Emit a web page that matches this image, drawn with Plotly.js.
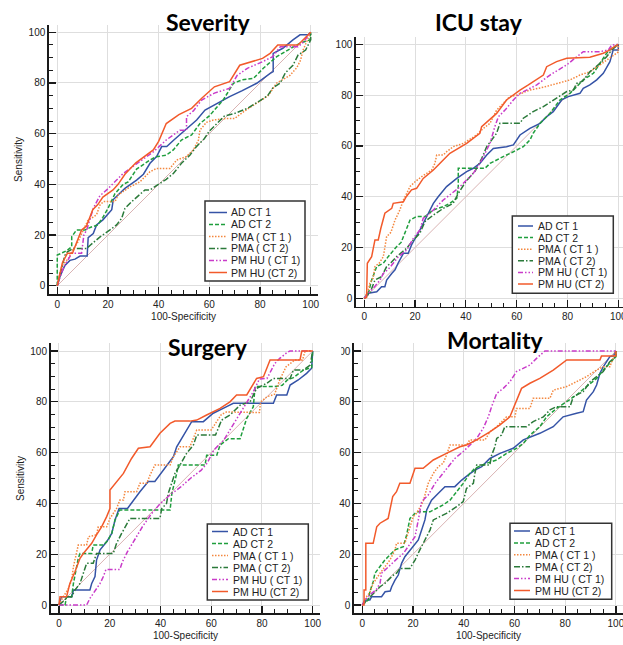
<!DOCTYPE html>
<html><head><meta charset="utf-8">
<script src="https://cdn.plot.ly/plotly-3.0.1.min.js"></script>
<style>html,body{margin:0;padding:0;background:#fff;} #chart{width:623px;height:645px;}</style>
</head><body><div id="chart"></div>
<script>
// ---------- labels ----------
const seriesNames = ["AD CT 1", "AD CT 2", "PMA ( CT 1 )", "PMA ( CT 2)", "PM HU ( CT 1)", "PM HU (CT 2)"];
const panelTitles = ["Severity", "ICU stay", "Surgery", "Mortality"];
const xAxisTitle = "100-Specificity";
const yAxisTitle = "Sensitivity";
const tickValues = [0, 20, 40, 60, 80, 100];
const tickLabels = ["0", "20", "40", "60", "80", "100"];
const diagonal = [0, 100];

// ---------- Severity: [100-Specificity, Sensitivity] ----------
const sevAD1 = [[0,0],[1,3.5],[3,8],[5,10],[7,10.5],[9,11.7],[11.8,11.7],[12.2,19],[14.2,20.6],[15.5,24],[18,26],[21.5,30],[22.1,34],[26.7,38.4],[31.3,41.7],[34,44],[36.6,48.3],[39.2,51],[41.2,54.9],[43.2,54.9],[46,57.5],[50,61],[55,65.4],[58.3,69.3],[63,72],[68,74.6],[73,77],[78.7,79.9],[84,83.8],[85.2,84.5],[85.2,91.7],[89,93.7],[93,97],[95.8,99],[99,99],[100,100]];
const sevAD2 = [[0,0],[0,12.1],[2,13],[4,14],[5.7,15.4],[5.7,19.3],[7.6,22],[11,22],[13,23],[16,24],[18,27],[20,30.5],[22.8,36.4],[26,40],[28,41],[31.3,46],[36.6,49.6],[39,50.9],[43,51.5],[45.8,53.6],[49,57.5],[53,59.5],[56.3,64],[60,67],[65.5,73.3],[69.5,79.9],[72.8,81.2],[77.4,81.8],[81.3,85.8],[86.6,90.4],[93.2,94.3],[95.8,95.7],[99.7,97],[100,100]];
const sevPMA1 = [[0,0],[1,5],[2,8],[4.4,10.8],[6,14],[8,17],[10.3,22],[12.2,26],[14,27],[15.5,28],[16.8,31.8],[18.2,33.2],[22.8,33.2],[24,35.8],[28.7,39],[32.6,41],[36.6,45],[39.2,46.3],[44.5,46.3],[47.1,49.6],[51,51],[53.7,53.6],[55.7,57.5],[56.3,61.4],[58.9,64.5],[61.6,65.4],[66.8,66],[70,66],[74,69],[78.7,72],[83.2,75],[86.6,80],[91.8,83],[94.5,86],[96,89],[97,93],[100,100]];
const sevPMA2 = [[0,0],[1,3.5],[2,8],[3,12],[4,13.4],[6.3,14.7],[11.6,14.7],[13,16],[16.9,19.3],[20.8,22],[23.4,24],[25.4,26.6],[26.7,30.5],[29.4,33.2],[32.6,35.8],[34.6,37.8],[36.6,37.8],[40.5,40.4],[43,42],[45.8,44.3],[49,48.3],[52.4,51.6],[55,55],[58,58],[60,61],[62,63],[66,67],[70,68],[75,70],[80,73],[83,75],[85,78],[88,80],[90,84],[93,87],[95,91],[98,93],[100,97],[100,100]];
const sevHU1 = [[0,0],[1,3],[2,6],[3,8],[4,10],[5.7,12.8],[9.6,12.8],[10.5,20],[11.6,22],[14.2,30.5],[16.8,35.5],[19.5,37.8],[26,44.3],[31,48],[38,52.9],[43,57.5],[48.4,61.4],[51,61.4],[51,66.7],[53.7,69],[57,73.3],[62,76],[68,77.9],[71,83],[75,85.8],[81,88.4],[85,90.4],[88,94.3],[95,94.3],[97,96],[100,100]];
const sevHU2 = [[0,0],[1,5],[2,9],[4,12.8],[6,12.8],[7.6,17],[9.6,22],[11.5,23.5],[14,30],[16,32],[18,35],[22,37.8],[24,40],[26.7,44],[31,48.5],[37.9,53.6],[40,57],[43,64],[48,67.5],[53,70],[57,74],[62,78.5],[68,80.5],[72,87],[75,88],[81,89.7],[84,91.7],[87,95],[95,95],[97,97],[100,100]];

// ---------- ICU stay ----------
const icuAD1 = [[0,0],[1.6,2],[4.9,2.6],[6.8,4.6],[8.1,4.6],[8.8,7.2],[10.8,9.8],[12.1,11.2],[13.4,14],[15.4,17.7],[17.3,17.7],[18.6,21],[21.9,26.9],[24.5,32.2],[25.9,35.4],[27.2,37.4],[29.1,40],[32.4,44],[36.4,47.2],[40.3,49.9],[42.9,51.2],[45.5,53.1],[48.2,56.4],[50.8,59],[56,59.7],[58.7,60.4],[61.3,64.3],[65.2,66.9],[69.2,68.9],[71.8,71.5],[74.4,73.5],[77.7,78.1],[80.3,79.4],[84.9,80.7],[86.2,82.7],[88.8,84],[91.5,86],[94.1,88.6],[96.7,93.2],[98,97.8],[100,97.8],[100,100]];
const icuAD2 = [[0,0],[1.6,2],[2.9,7.2],[4.9,12.5],[7.5,13.8],[9.4,16.4],[12.7,20.3],[14.5,22],[18,30.8],[20.6,32.2],[23.9,32.2],[27.2,34.8],[31.1,36.1],[33.7,37.4],[36.4,39.4],[37,44],[37,51.2],[47.5,51.2],[49.5,53.1],[52.1,54.5],[54.7,55.8],[58.7,57.7],[62.6,59.7],[65.2,62.3],[66.5,65],[69.2,68.9],[73.1,72.8],[77,78.1],[81,80.7],[83.6,83.3],[86.2,86],[90.2,88.6],[92.8,92.5],[95.4,96.5],[97.4,98.4],[100,100]];
const icuPMA1 = [[0,0],[1.6,3.3],[2.2,5.9],[3.5,8],[4.2,12.5],[6,14],[7.5,16.4],[8.1,20.3],[8.8,24.3],[10.5,26],[12.1,30.8],[14,34.8],[15.4,38.7],[16.7,41.3],[18,44],[20,45.9],[22.6,47.9],[26.5,50.5],[27.8,53.1],[28.5,56.4],[31.1,56.4],[32.4,57.7],[35,59.7],[39,61],[44.2,64.3],[46.9,66.9],[49.5,68.9],[52.1,74.1],[54.7,76.8],[57.3,79.4],[60,80],[65.2,82],[70.5,83.1],[76,84.5],[81,86],[84.9,87.9],[88.8,89.2],[92.8,91.9],[97.4,95.1],[99.3,96.5],[100,97],[100,100]];
const icuPMA2 = [[0,0],[2.2,2],[4.2,7.2],[6.8,8.5],[8.8,12.5],[10.5,14],[12.7,16.4],[14.5,18],[16.7,19.7],[19.3,23],[21.9,25.6],[23.9,30.2],[27.2,32.8],[31.1,35.4],[35,37.4],[37,41.3],[40,46],[43.6,50],[46.2,55],[48.2,59.7],[50.1,62.3],[52.1,65],[53.4,68.9],[61.3,68.9],[62.6,70.9],[66.5,73.5],[70.5,75.5],[74.4,78.1],[79.7,81.4],[82.3,82],[83.6,84.6],[86,85.5],[88.8,89.2],[92.8,92.5],[95.4,95.1],[97.4,97.8],[100,100]];
const icuHU1 = [[0,0],[1.6,2],[4,4.5],[6.2,7.2],[7.5,9.8],[9.5,11.5],[11.4,13.8],[13.4,16.4],[16.7,19],[19.3,23.6],[21.9,26.9],[23.2,31.5],[25.9,33.5],[28.5,36.1],[31.1,38.7],[34.4,41.3],[37,43.3],[40.3,46.6],[42.9,49.2],[45.5,53.1],[47.5,57.1],[49.5,61],[51.4,67.6],[52.8,71.5],[55.4,74.1],[58.7,78.1],[61.3,80.7],[65.2,82.7],[67.9,84],[70.5,86],[73.1,87.9],[76.4,89.9],[79.7,91.9],[82.9,94.5],[86.2,97.1],[92.8,97.1],[96.1,97.8],[97.4,99.7],[100,100]];
const icuHU2 = [[0,0],[0.9,0.3],[1.2,13.8],[2.9,16.4],[4.2,23],[5.5,23],[6.5,27.5],[8.1,33.5],[10.8,35.4],[11.4,37.4],[15.4,38],[16.5,40],[18.6,42.7],[20.6,43.3],[23.2,47.2],[27.2,50.5],[30.4,53.8],[33.7,57.1],[40.3,61],[45.5,65],[46.2,67.6],[52.1,72.8],[56,78.1],[61.3,82],[64.6,84],[70.5,87.9],[71.8,91.2],[75.7,93.2],[79.7,94.5],[88.8,94.9],[94.1,96.5],[96.7,97.8],[98.3,99],[100,100]];

// ---------- Surgery ----------
const surAD1 = [[0,0],[1,3.3],[5,3.3],[5.7,5.9],[12.2,5.9],[12.9,8.5],[14.2,11.2],[14.8,17.7],[16.2,21.7],[18.8,24.9],[20.8,28.2],[22.1,33.5],[23.7,38],[27,38],[31.9,44.6],[35.2,48.6],[37.8,48.6],[42.4,54.5],[45.1,58.4],[46.4,62.3],[49.7,67.6],[52.3,72.2],[56.9,72.2],[60.8,75.5],[66.1,78.1],[68.7,79.4],[84.5,79.4],[85.8,82.7],[89.8,82.7],[91.1,86.6],[94.3,88.6],[97.6,91.2],[99.6,93.2],[100,100]];
const surAD2 = [[0,0],[2.4,0],[3,3.3],[5,3.3],[5.7,8.5],[7.6,18.4],[8.3,20.3],[12.9,20.3],[13.5,23.6],[17.5,23.6],[19.4,25.6],[20.8,28.2],[22.1,33.5],[24,37.4],[43.8,37.4],[44.5,44],[46.4,51.8],[47,55.1],[57.6,55.1],[58.2,59],[62.2,59],[63.5,63],[66.8,65.5],[71.4,65.5],[74,73.5],[76.6,78.1],[77.3,86],[85,86],[88,86.5],[90,88.6],[92.4,89.5],[96.3,92.5],[99.6,93.5],[100,100]];
const surPMA1 = [[0,0],[1.7,3.3],[3.5,6],[5,9.8],[5.7,15.1],[7,20.3],[7.6,23.6],[10.9,23.6],[11.6,26.9],[14.8,27.6],[15.5,30.8],[18.8,30.8],[20.1,34.1],[22.7,38],[24,41.3],[25.4,41.3],[26,44.6],[30.6,44.6],[31.9,47.9],[34.6,47.9],[35.9,51.2],[37.8,55.1],[43.8,55.1],[45.1,58.4],[47.7,62.3],[51.6,62.3],[54.3,68.9],[60,68.9],[62,72],[64,75],[66,76],[71,76],[75,75.8],[79,75.8],[79.5,80],[82,82],[85,83],[87,88.6],[89.5,93.8],[93,96.5],[96,96.5],[97,100],[100,100]];
const surPMA2 = [[0,0],[2.4,2],[3,3.3],[5,3.3],[6.3,5.9],[8.3,8.5],[9.6,12.5],[10.9,16.4],[13.5,16.4],[14.8,20.3],[21.4,20.3],[22.7,24.3],[24.7,28.2],[26.7,31.5],[28,34.1],[39.8,34.1],[40.5,38],[42.4,40],[43.1,44],[44.4,47.9],[45.7,51.8],[47.7,55.1],[50.3,59.7],[53,63],[54.3,66.9],[61.7,66.9],[64.1,72.8],[67.4,74.8],[71.4,78.7],[75.3,80],[77.9,85.3],[81.9,87.3],[84.5,89.2],[91.1,89.2],[92.4,92.5],[96.3,92.5],[99,94.5],[100,100]];
const surHU1 = [[0,0],[10.9,0],[12.2,2.6],[13.5,4.6],[16.2,8.5],[17.5,11.2],[18.5,14],[24,14],[25,17],[27,21],[30,26],[33,31],[36.5,36],[40,40],[44,43.5],[48,46.5],[52,50],[56,53],[58.5,56],[61,61],[65,65],[67.5,69],[71.5,75.5],[74,79.4],[76.6,84],[79,89],[82,89.2],[85,95],[87,97.1],[90,99.5],[91,100],[100,100]];
const surHU2 = [[0,0],[0.4,3.3],[3,3.3],[4.3,8.5],[6.3,13.1],[8.3,18.4],[9.6,20.3],[12.9,24.3],[14.8,27.6],[16.8,30.8],[18.8,34.8],[20.1,38],[20.1,45.3],[22.1,47.9],[25.4,51.8],[28.6,57.7],[31.3,61.7],[35.9,62.3],[39.8,67.6],[43.8,71.5],[45.7,72.4],[51.6,72.4],[54.3,72.8],[58.2,74.8],[63.5,77.4],[67.4,80],[70,82.7],[74,82.7],[77.9,89.2],[80.6,89.9],[83.2,96.5],[95,96.5],[95.7,100],[100,100]];

// ---------- Mortality ----------
const morAD1 = [[0,0],[1.1,2],[3,2],[3.7,3.3],[7.6,3.3],[9,5.2],[11,5.5],[11.6,7.2],[12.9,9.8],[14.2,11.8],[14.9,14.4],[15.5,16.4],[16.8,19],[20.1,23],[22.1,25.6],[23.4,29.5],[24.7,33.5],[25.4,37.4],[27.3,41.3],[30,44],[32.6,46.6],[36.5,46.6],[39.2,49.2],[41.8,51.2],[44.4,53.1],[47.1,54.5],[50.3,57.7],[54.3,59.7],[59.5,61.7],[63.5,65],[70,67.6],[75.3,70.2],[79.2,74.1],[84.5,75.5],[87.1,76.1],[88.4,80.7],[91.1,84],[92.4,86.6],[93.7,91.2],[95,93.8],[97.6,97.8],[99,98],[100,100]];
const morAD2 = [[0,0],[2.4,2],[3,5.2],[4.3,9.2],[5,12.5],[7,15.1],[8.9,17.7],[10.9,19.7],[12.9,21.7],[16.2,23],[17.5,27.6],[18.8,34.1],[21.4,36.7],[26.7,36.7],[29.3,38],[31.9,39.4],[34.6,41.3],[37.2,44.6],[39.8,47.9],[42.4,51.8],[44.4,53.8],[49,55.8],[53,57.1],[56.9,59.7],[60.8,61.7],[63.5,63.6],[66.1,66.9],[70,70.2],[72.7,74.1],[76.6,77.4],[80.6,80],[84.5,82.7],[88.4,86],[92.4,89.2],[95,92.5],[97.6,95.1],[100,97.8],[100,100]];
const morPMA1 = [[0,0],[1.5,3],[3,5],[4.3,8.5],[7,12.5],[8.9,15.1],[10.9,17.7],[12.9,21.7],[13.5,24.3],[16.8,24.3],[18.8,30.8],[20.1,34.8],[21.4,36.1],[24,40.7],[26,47.9],[28,51.8],[30,54.5],[31.9,55.8],[33.2,59],[34.6,63],[41.1,63],[42.4,65],[48.4,65],[50.3,68.2],[53,70.2],[56.9,74.1],[60.2,74.1],[60.8,77.4],[66.1,77.4],[67.4,81.4],[74,81.4],[75.3,84.6],[80.6,86],[84.5,87.9],[88.4,89.9],[92.4,92.5],[95,93.8],[97.6,93.8],[99,97.8],[100,100]];
const morPMA2 = [[0,0],[3,3.3],[5,5.2],[7,7.2],[8.9,8.5],[10.9,10.5],[12.5,12],[13.5,12.5],[14.8,14.4],[18.8,14.4],[20.8,17.7],[22.7,21.7],[24.7,25.6],[26.7,29.5],[28,33.5],[30.6,34.8],[33.2,36.1],[37.2,38.7],[39.8,40.7],[41.1,45.9],[43.8,47.9],[44.4,51.8],[45.1,55.1],[50.3,55.1],[51,59],[52.3,62.3],[53,65.6],[54.9,66.9],[56.2,70.2],[64.8,70.2],[67.4,72.2],[71.4,74.1],[74,76.8],[76.6,78.1],[81.9,78.1],[83.2,82],[87.1,84],[89.8,87.9],[92.4,89.9],[95,91.9],[97.6,95.8],[100,97.8],[100,100]];
const morHU1 = [[0,0],[1.5,2.5],[3.7,4.6],[5.5,6],[7,8.5],[7.6,12.5],[9.6,14.4],[11.6,16.4],[13.5,18],[16.2,20.3],[18.8,24.3],[20.8,26.9],[22.1,33.5],[23.4,40.7],[26,43.3],[28.7,47.9],[31.3,51.2],[33.9,54.5],[36.5,57.7],[39.8,60.4],[42.5,63],[45.1,65.6],[47.7,69.6],[49.7,74.1],[51,78.1],[53,83.3],[55.6,85.3],[58.2,87.9],[60.8,91.9],[63.5,93.2],[66.1,94.5],[68.7,97.1],[72,100],[100,100]];
const morHU2 = [[0,0],[0.7,0],[0.7,5.9],[1.4,5.9],[1.4,24.3],[4.3,24.3],[5.7,30.8],[7,32.2],[10.2,34.1],[12,42.7],[13.5,44.6],[14.8,47.9],[18.8,47.9],[20.8,53.8],[24,53.8],[28,57.1],[33.2,59.7],[38.5,62.3],[41.1,63],[45.1,65],[50.3,68.2],[54.3,70.9],[58.2,74.1],[60.8,80.7],[62.8,85.3],[66.1,87.3],[70,89.2],[75.3,92.5],[80.6,96.5],[93.7,96.5],[94.3,98],[100,98],[100,100]];

// ---------- styles ----------
const lineColors = ["#3553a6", "#1f9e3d", "#f4873e", "#2b7a3a", "#c93bc9", "#f25a2b"];
const lineDashes = ["solid", "4px,2px", "1.5px,1.5px", "6px,2px,1.5px,2px", "5px,2px,1.5px,2px,1.5px,2px", "solid"];
const W = 623, H = 645;
const px = v => v / W;
const py = v => 1 - v / H;
const FONT = "Liberation Sans, Arial, sans-serif";

const panels = [
  { data: [sevAD1, sevAD2, sevPMA1, sevPMA2, sevHU1, sevHU2], xd: [48.9, 318.3], yd: [24.7, 294.1], xr: [-3.3, 103], yr: [-3.3, 103],
    tt: [208, 22], showX: true, showY: true,
    leg: { x0: 205, y0: 201, x1: 305, y1: 281, lx0: 209, lx1: 227, tx: 229, ty: 212.5, dy: 12 } },
  { data: [icuAD1, icuAD2, icuPMA1, icuPMA2, icuHU1, icuHU2], xd: [355.9, 623], yd: [36.7, 306.7], xr: [-3.3, 101.85], yr: [-3.3, 103],
    tt: [479, 22.5], showX: false, showY: false,
    leg: { x0: 512.3, y0: 216, x1: 613.3, y1: 293.3, lx0: 518, lx1: 533, tx: 536, ty: 226, dy: 11.6 } },
  { data: [surAD1, surAD2, surPMA1, surPMA2, surHU1, surHU2], xd: [50.6, 320.3], yd: [343.4, 613.4], xr: [-3.3, 103], yr: [-3.3, 103],
    tt: [208, 346.5], showX: true, showY: true,
    leg: { x0: 207.3, y0: 524, x1: 308.3, y1: 600, lx0: 212, lx1: 228, tx: 231, ty: 531.5, dy: 12 } },
  { data: [morAD1, morAD2, morPMA1, morPMA2, morHU1, morHU2], xd: [353.9, 623], yd: [343.4, 613.4], xr: [-3.3, 102.8], yr: [-3.3, 103],
    tt: [495.7, 340], showX: true, showY: false,
    leg: { x0: 510, y0: 523.3, x1: 611.7, y1: 599.3, lx0: 514, lx1: 530, tx: 533, ty: 531, dy: 11.9 } }
];

function makeAxis(domain, range, title, showTitle, anchor) {
  const ax = {
    domain: domain, range: range, autorange: false, anchor: anchor,
    showline: true, linecolor: "#1a1a1a", linewidth: 1.6, mirror: false,
    ticks: "inside", ticklen: 7, tickwidth: 1.2, tickcolor: "#1a1a1a",
    tickmode: "array", tickvals: tickValues, ticktext: tickLabels,
    minor: { tickmode: "linear", tick0: 0, dtick: 5, ticks: "inside", ticklen: 4, tickwidth: 1, tickcolor: "#1a1a1a", showgrid: false },
    showgrid: true, gridcolor: "#dedede", gridwidth: 1, zeroline: false,
    tickfont: { family: FONT, size: 10, color: "#222" },
    ticklabeloverflow: "allow", fixedrange: true
  };
  if (showTitle) ax.title = { text: title, font: { family: FONT, size: 10, color: "#222" }, standoff: 4 };
  return ax;
}

const traces = [];
const layout = {
  width: W, height: H, autosize: false,
  margin: { l: 0, r: 0, t: 0, b: 0, pad: 0 },
  paper_bgcolor: "#ffffff", plot_bgcolor: "#ffffff",
  showlegend: false, annotations: [], shapes: []
};

panels.forEach((p, i) => {
  const n = i === 0 ? "" : String(i + 1);
  const xa = "x" + n, ya = "y" + n;
  layout["xaxis" + n] = makeAxis([px(p.xd[0]), px(p.xd[1])], p.xr, xAxisTitle, p.showX, ya);
  layout["yaxis" + n] = makeAxis([py(p.yd[1]), py(p.yd[0])], p.yr, yAxisTitle, p.showY, xa);
  traces.push({ x: diagonal, y: diagonal, xaxis: xa, yaxis: ya, mode: "lines", hoverinfo: "skip",
    line: { color: "#d9b3b3", width: 1 } });
  p.data.forEach((pts, k) => {
    traces.push({
      x: pts.map(d => d[0]), y: pts.map(d => d[1]), xaxis: xa, yaxis: ya,
      mode: "lines", name: seriesNames[k], hoverinfo: "skip",
      line: { color: lineColors[k], width: 1.5, dash: lineDashes[k] }
    });
  });
  layout.annotations.push({
    text: panelTitles[i], xref: "paper", yref: "paper", x: px(p.tt[0]), y: py(p.tt[1]),
    xanchor: "center", yanchor: "middle", showarrow: false,
    font: { family: "Lato, sans-serif", size: 23, color: "#000", weight: 700 }
  });
  const L = p.leg;
  layout.shapes.push({ type: "rect", xref: "paper", yref: "paper", layer: "above",
    x0: px(L.x0), x1: px(L.x1), y0: py(L.y1), y1: py(L.y0),
    fillcolor: "#ffffff", line: { color: "#333333", width: 1.5 } });
  seriesNames.forEach((name, k) => {
    const yy = py(L.ty + k * L.dy);
    layout.shapes.push({ type: "line", xref: "paper", yref: "paper", layer: "above",
      x0: px(L.lx0), x1: px(L.lx1), y0: yy, y1: yy,
      line: { color: lineColors[k], width: 1.5, dash: lineDashes[k] } });
    layout.annotations.push({ text: name, xref: "paper", yref: "paper", x: px(L.tx), y: yy,
      xanchor: "left", yanchor: "middle", showarrow: false,
      font: { family: FONT, size: 10.5, color: "#222" } });
  });
});

// the mortality panel is cropped on its left edge in the source figure
layout.shapes.push({ type: "rect", xref: "paper", yref: "paper", layer: "above",
  x0: px(321), x1: px(341.3), y0: py(362), y1: py(340), fillcolor: "#ffffff", line: { width: 0 } });

Plotly.newPlot("chart", traces, layout, { staticPlot: true, displayModeBar: false });
</script>
</body></html>
